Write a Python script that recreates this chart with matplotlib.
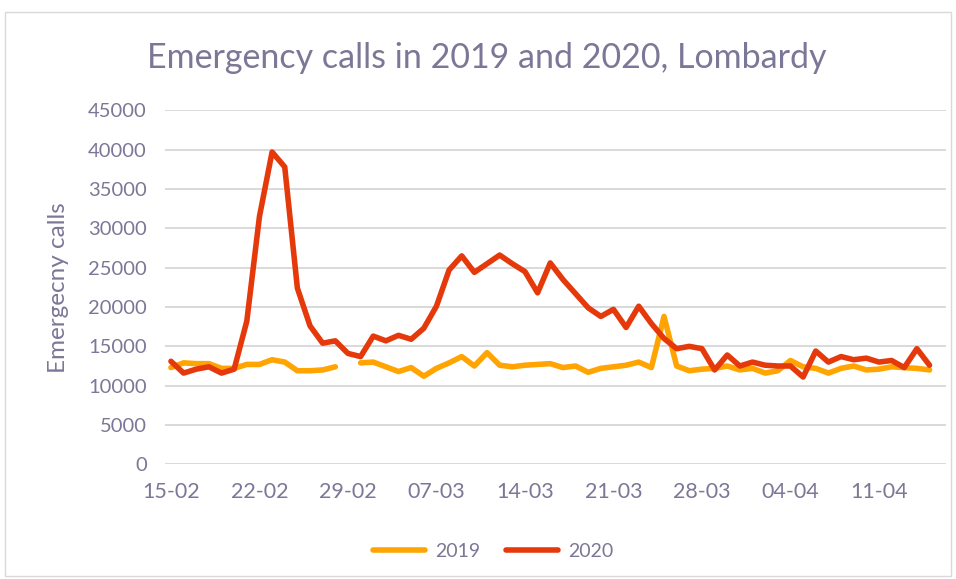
import numpy as np
import matplotlib
matplotlib.use("Agg")
import matplotlib.pyplot as plt
from matplotlib.patches import Rectangle

# daily emergency calls, 15-02 .. 15-04 (2019 has no 29-02)
calls_2019 = [12300, 12900, 12800, 12800, 12200, 12200, 12700, 12700, 13300, 13000,
              11900, 11900, 12000, 12400, np.nan, 12900, 13000, 12400, 11800, 12300,
              11200, 12200, 12900, 13700, 12500, 14200, 12600, 12400, 12600, 12700,
              12800, 12300, 12500, 11700, 12200, 12400, 12600, 13000, 12300, 18800,
              12500, 11900, 12100, 12200, 12500, 12000, 12200, 11600, 11900, 13200,
              12400, 12200, 11600, 12200, 12500, 12000, 12100, 12400, 12300, 12200,
              12000]
calls_2020 = [13100, 11600, 12100, 12400, 11600, 12100, 18200, 31500, 39700, 37800,
              22400, 17600, 15400, 15700, 14100, 13700, 16300, 15700, 16400, 15900,
              17300, 20100, 24700, 26500, 24400, 25500, 26600, 25500, 24500, 21800,
              25600, 23500, 21700, 19900, 18800, 19700, 17400, 20100, 17900, 16000,
              14700, 15000, 14700, 12000, 13900, 12500, 13000, 12600, 12500, 12500,
              11100, 14400, 13000, 13700, 13300, 13500, 13000, 13200, 12300, 14700,
              12600]
tick_days = [0, 7, 14, 21, 28, 35, 42, 49, 56]
tick_labels = ["15-02", "22-02", "29-02", "07-03", "14-03", "21-03", "28-03", "04-04", "11-04"]
y_ticks = [0, 5000, 10000, 15000, 20000, 25000, 30000, 35000, 40000, 45000]

txt = "#7b7796"
plt.rcParams['font.family'] = ['Lato', 'DejaVu Sans']

fig = plt.figure(figsize=(9.56, 5.79), dpi=100)
fig.patches.append(Rectangle((5/956, 0.005), 0.99, 1 - 12/579 - 0.005, transform=fig.transFigure,
                             fill=False, edgecolor="#d9d9d9", linewidth=1))
ax = fig.add_axes([0.1726, 0.198, 0.8169, 0.6115])

days = np.arange(len(calls_2020))
ax.plot(days, calls_2019, color="#FFA400", linewidth=4, label="2019", solid_capstyle="round")
ax.plot(days, calls_2020, color="#E5390B", linewidth=4, label="2020", solid_capstyle="round")

ax.set_xlim(-0.47, 61.3)
ax.set_ylim(0, 45000)
ax.set_yticks(y_ticks)
ax.set_yticklabels([str(v) for v in y_ticks])
ax.set_xticks(tick_days)
ax.set_xticklabels(tick_labels)
ax.tick_params(axis='both', length=0, colors=txt, labelsize=15.5)
ax.tick_params(axis='y', labelsize=14.5, pad=13)
ax.tick_params(axis='x', pad=13)
ax.grid(axis='y', color="#d9d9d9", linewidth=1.4)
ax.set_axisbelow(True)
for s in ax.spines.values():
    s.set_visible(False)

ax.set_ylabel("Emergecny calls", color=txt, fontsize=17.5, labelpad=14)
fig.text(0.509, 0.9, "Emergency calls in 2019 and 2020, Lombardy", color=txt,
         fontsize=24.5, ha='center', va='center')

ax.legend(loc='center', bbox_to_anchor=(0.42, -0.245), ncol=2, frameon=False,
          fontsize=14, labelcolor=txt, handlelength=2.7, columnspacing=1.3, handletextpad=0.5)

fig.savefig("out.png", dpi=100)
